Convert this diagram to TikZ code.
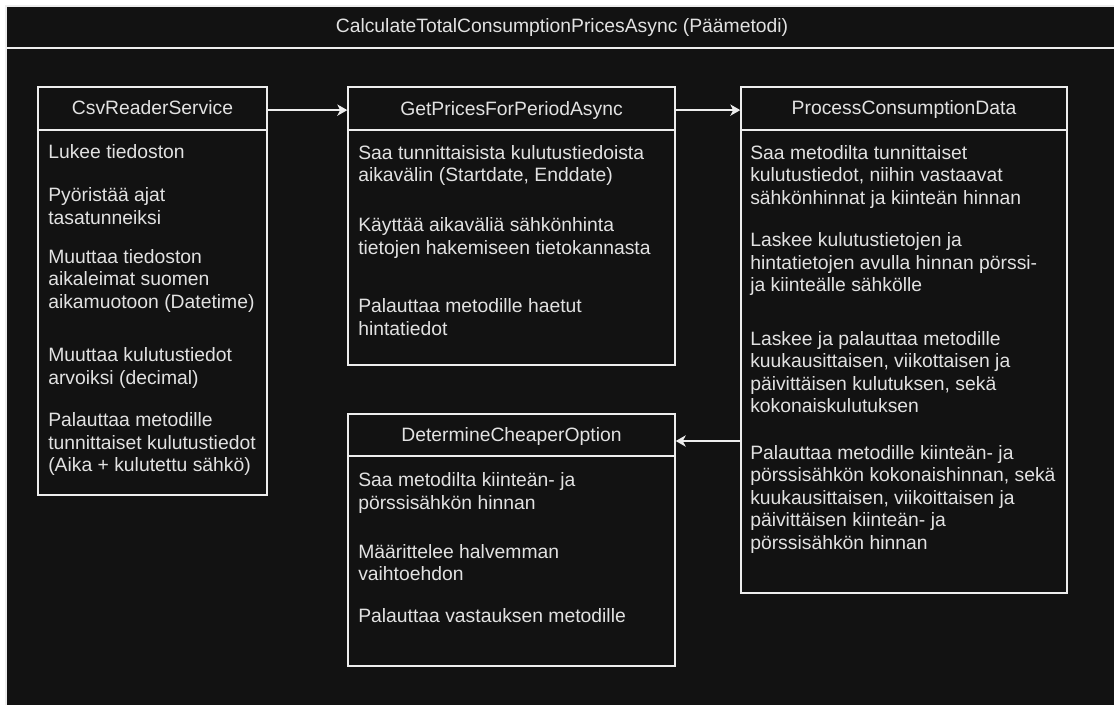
\documentclass[tikz,border=0pt]{standalone}
\usepackage{fontspec}
\setmainfont{Liberation Sans}
\usetikzlibrary{arrows.meta,fit}
\definecolor{canvas}{HTML}{121212}
\definecolor{ink}{HTML}{EDEDED}
\definecolor{txt}{HTML}{E2E2E2}
\newcommand{\itemlines}[1]{\parbox[t]{300pt}{\raggedright #1}}
\tikzset{
  px/.style={x=0.75pt,y=-0.75pt},
  stroke/.style={draw=ink, line width=1.1pt},
  panel/.style={stroke, fill=canvas, inner sep=0pt},
  hdrbox/.style={stroke, inner sep=0pt},
  label/.style={text=txt, inner sep=0pt, font=\fontsize{14.5}{16.9}\selectfont},
  hdrtext/.style={label, anchor=base},
  itemtext/.style={label, anchor=base west},
  arr/.style={stroke, -{Stealth[length=7.5pt,width=8.5pt,inset=2.2pt]}}
}
\begin{document}
\begin{tikzpicture}[px]
  \useasboundingbox (0,0) rectangle (1114,704);
  \clip (0,0) rectangle (1114,704);
  \fill[white] (0,0) rectangle (1114,704);

  % main method container with its title bar
  \node[panel, fit={(6,6) (1118,710)}] (main) {};
  \node[hdrbox, fit={(6,6) (1118,48)}] (mainh) {};
  \node[hdrtext] (title) at (562,32) {CalculateTotalConsumptionPricesAsync (Päämetodi)};

  % CsvReaderService
  \node[panel, fit={(38,87) (267,495)}] (csv) {};
  \node[hdrbox, fit={(38,87) (267,130)}] (csvh) {};
  \node[hdrtext] (csvt) at (152.5,114) {CsvReaderService};
  \node[itemtext] (csv1) at (48,158) {\itemlines{Lukee tiedoston}};
  \node[itemtext] (csv2) at (48,201.5) {\itemlines{Pyöristää ajat\\tasatunneiksi}};
  \node[itemtext] (csv3) at (48,263) {\itemlines{Muuttaa tiedoston\\aikaleimat suomen\\aikamuotoon (Datetime)}};
  \node[itemtext] (csv4) at (48,361.5) {\itemlines{Muuttaa kulutustiedot\\arvoiksi (decimal)}};
  \node[itemtext] (csv5) at (48,426.5) {\itemlines{Palauttaa metodille\\tunnittaiset kulutustiedot\\(Aika + kulutettu sähkö)}};

  % GetPricesForPeriodAsync
  \node[panel, fit={(348,87) (675,365)}] (gp) {};
  \node[hdrbox, fit={(348,87) (675,130)}] (gph) {};
  \node[hdrtext] (gpt) at (511.5,115) {GetPricesForPeriodAsync};
  \node[itemtext] (gp1) at (358,159) {\itemlines{Saa tunnittaisista kulutustiedoista\\aikavälin (Startdate, Enddate)}};
  \node[itemtext] (gp2) at (358,231.5) {\itemlines{Käyttää aikaväliä sähkönhinta\\tietojen hakemiseen tietokannasta}};
  \node[itemtext] (gp3) at (358,312.5) {\itemlines{Palauttaa metodille haetut\\hintatiedot}};

  % ProcessConsumptionData
  \node[panel, fit={(741,87) (1067,593)}] (pc) {};
  \node[hdrbox, fit={(741,87) (1067,130)}] (pch) {};
  \node[hdrtext] (pct) at (904,114.7) {ProcessConsumptionData};
  \node[itemtext] (pc1) at (750,159) {\itemlines{Saa metodilta tunnittaiset\\kulutustiedot, niihin vastaavat\\sähkönhinnat ja kiinteän hinnan}};
  \node[itemtext] (pc2) at (750,246.5) {\itemlines{Laskee kulutustietojen ja\\hintatietojen avulla hinnan pörssi-\\ja kiinteälle sähkölle}};
  \node[itemtext] (pc3) at (750,345) {\itemlines{Laskee ja palauttaa metodille\\kuukausittaisen, viikottaisen ja\\päivittäisen kulutuksen, sekä\\kokonaiskulutuksen}};
  \node[itemtext] (pc4) at (750,459) {\itemlines{Palauttaa metodille kiinteän- ja\\pörssisähkön kokonaishinnan, sekä\\kuukausittaisen, viikoittaisen ja\\päivittäisen kiinteän- ja\\pörssisähkön hinnan}};

  % DetermineCheaperOption
  \node[panel, fit={(348,414) (675,666)}] (dc) {};
  \node[hdrbox, fit={(348,414) (675,456)}] (dch) {};
  \node[hdrtext] (dct) at (511.5,441.7) {DetermineCheaperOption};
  \node[itemtext] (dc1) at (358,486.5) {\itemlines{Saa metodilta kiinteän- ja\\pörssisähkön hinnan}};
  \node[itemtext] (dc2) at (358,558) {\itemlines{Määrittelee halvemman\\vaihtoehdon}};
  \node[itemtext] (dc3) at (358,622.5) {\itemlines{Palauttaa vastauksen metodille}};

  % call flow between the methods
  \draw[arr] ([yshift=-1.2pt]csvh.east) -- ([yshift=-1.2pt]csvh.east -| gph.west);
  \draw[arr] ([yshift=-1.2pt]gph.east) -- ([yshift=-1.2pt]gph.east -| pch.west);
  \draw[arr] ([yshift=-4.5pt]dch.east -| pc.west) -- ([yshift=-4.5pt]dch.east);
\end{tikzpicture}
\end{document}
